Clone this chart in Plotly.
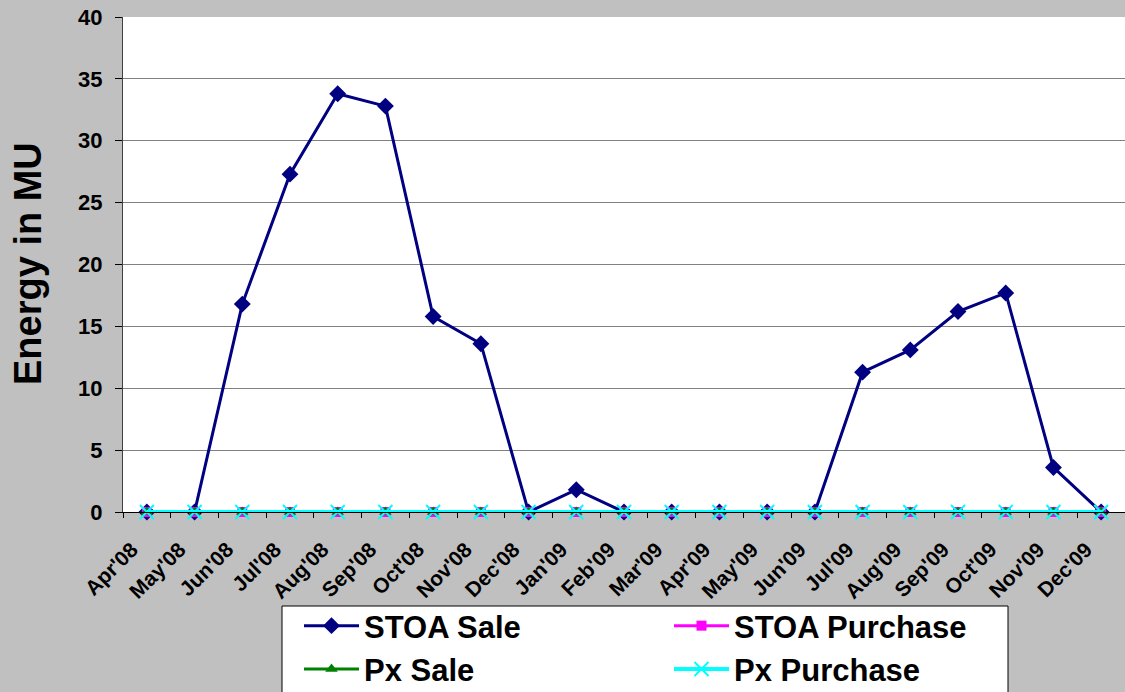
import plotly.graph_objects as go

months = ["Apr'08", "May'08", "Jun'08", "Jul'08", "Aug'08", "Sep'08", "Oct'08",
          "Nov'08", "Dec'08", "Jan'09", "Feb'09", "Mar'09", "Apr'09", "May'09",
          "Jun'09", "Jul'09", "Aug'09", "Sep'09", "Oct'09", "Nov'09", "Dec'09"]
stoa_sale = [0, 0, 16.8, 27.3, 33.8, 32.8, 15.8, 13.6, 0, 1.8, 0,
             0, 0, 0, 0, 11.3, 13.1, 16.2, 17.7, 3.6, 0]
stoa_purchase = [0, 0, 0, 0, 0, 0, 0, 0, 0, 0, 0, 0, 0, 0, 0, 0, 0, 0, 0, 0, 0]
px_sale = [0, 0, 0, 0, 0, 0, 0, 0, 0, 0, 0, 0, 0, 0, 0, 0, 0, 0, 0, 0, 0]
px_purchase = [0, 0, 0, 0, 0, 0, 0, 0, 0, 0, 0, 0, 0, 0, 0, 0, 0, 0, 0, 0, 0]
y_ticks = [0, 5, 10, 15, 20, 25, 30, 35, 40]

FONT = "Liberation Sans, Arial, sans-serif"
W, H = 1125, 692
ML, MR, MT, MB = 123, 0, 17, 180
PW, PH = W - ML - MR, H - MT - MB


def px_x(x):
    return (x - ML) / PW


def px_y(y):
    return (H - MB - y) / PH


fig = go.Figure()
fig.add_trace(go.Scatter(x=months, y=stoa_sale, name="STOA Sale", mode="lines+markers",
                         line=dict(color="#000080", width=3),
                         marker=dict(symbol="diamond", size=13, color="#000080"),
                         cliponaxis=False))
fig.add_trace(go.Scatter(x=months, y=stoa_purchase, name="STOA Purchase", mode="lines+markers",
                         line=dict(color="#FF00FF", width=3),
                         marker=dict(symbol="square", size=10, color="#FF00FF"),
                         cliponaxis=False))
fig.add_trace(go.Scatter(x=months, y=px_sale, name="Px Sale", mode="lines+markers",
                         line=dict(color="#008000", width=3),
                         marker=dict(symbol="triangle-up", size=11, color="#008000"),
                         cliponaxis=False))
fig.add_trace(go.Scatter(x=months, y=px_purchase, name="Px Purchase", mode="lines+markers",
                         line=dict(color="#00FFFF", width=4),
                         marker=dict(symbol="x-thin", size=14, color="#00FFFF",
                                     line=dict(color="#00FFFF", width=2)),
                         cliponaxis=False))

fig.update_layout(
    width=W, height=H,
    margin=dict(l=ML, r=MR, t=MT, b=MB, pad=0, autoexpand=False),
    paper_bgcolor="#C0C0C0",
    plot_bgcolor="#FFFFFF",
    font=dict(family=FONT, color="#000000"),
    showlegend=True,
    legend=dict(
        orientation="h",
        x=px_x(299), xanchor="left",
        y=px_y(599), yanchor="top",
        bgcolor="rgba(0,0,0,0)",
        borderwidth=0,
        font=dict(family=FONT, size=31, color="#000000", weight="bold"),
        entrywidth=300,
        itemwidth=55,
        tracegroupgap=0,
    ),
    shapes=[dict(type="rect", xref="paper", yref="paper",
                 x0=px_x(282), x1=px_x(1008), y0=px_y(700), y1=px_y(606),
                 fillcolor="#FFFFFF", line=dict(color="#000000", width=1), layer="below")],
    annotations=[dict(text="Energy in MU", xref="paper", yref="paper",
                      x=0, y=px_y(264), xshift=-(ML - 28), xanchor="center", yanchor="middle",
                      textangle=-90, showarrow=False,
                      font=dict(family=FONT, size=38, color="#000000", weight="bold"))],
)

fig.update_xaxes(
    type="category", range=[-0.5, 20.5], automargin=False,
    tickson="boundaries", ticks="outside", ticklen=5, tickcolor="#000000",
    tickangle=-45, ticklabelshift=-15, ticklabelstandoff=16,
    tickfont=dict(family=FONT, size=21, color="#000000", weight="bold"),
    showgrid=False, showline=True, linecolor="#000000", linewidth=1,
    zeroline=False,
)
fig.update_yaxes(
    range=[0, 40], tickvals=y_ticks, automargin=False,
    ticks="outside", ticklen=7, tickcolor="#000000",
    ticklabelstandoff=8,
    tickfont=dict(family=FONT, size=22, color="#000000", weight="bold"),
    showgrid=True, gridcolor="#808080", gridwidth=1,
    showline=True, linecolor="#404040", linewidth=1,
    zeroline=False,
)

fig.write_html("out.html",
               config={"displayModeBar": False},
               post_script="document.body.style.margin='0';"
                           "document.body.style.overflow='hidden';")
